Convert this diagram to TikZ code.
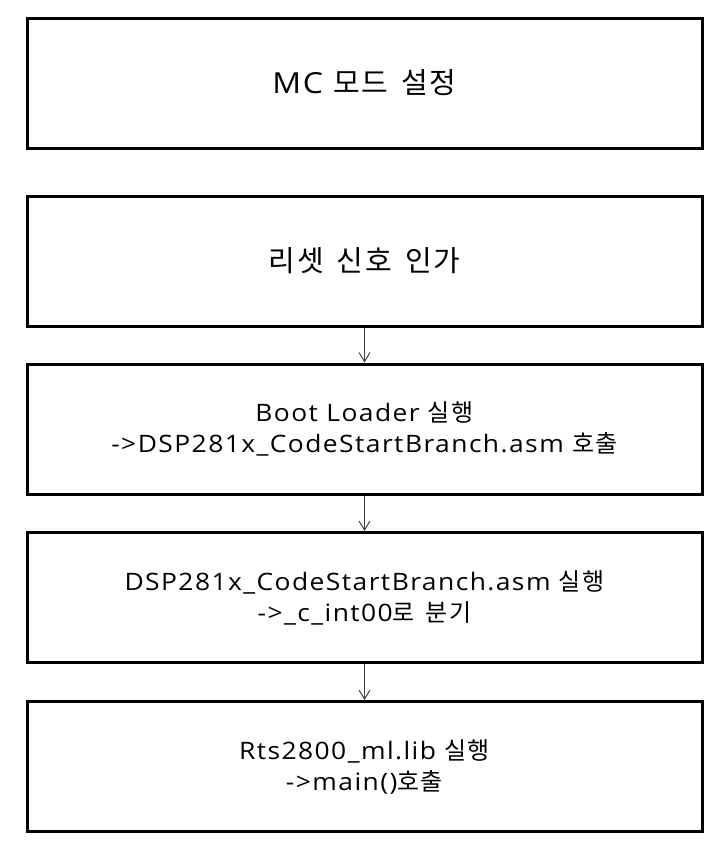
\documentclass[tikz,border=0pt]{standalone}
\usepackage{fontspec}
\setmainfont{Open Sans}[FakeStretch=1.1, LetterSpace=6]
\newfontfamily\krfont{Noto Sans CJK KR}[LetterSpace=6, WordSpace=1.6]
\newcommand{\ko}[1]{{\krfont #1}}
\usetikzlibrary{arrows.meta}
\tikzset{
  flowbox/.style={draw=black, line width=3pt, minimum width=675pt, minimum height=130pt, inner sep=0pt, align=center, font=\fontsize{24}{31}\selectfont},
  bigtext/.style={font=\fontsize{29}{34}\selectfont},
  flowarrow/.style={draw=black!75, line width=1pt, -{Straight Barb[length=9pt,width=11pt,line width=1pt]}}
}
\begin{document}
\begin{tikzpicture}[x=1pt,y=1pt]
\useasboundingbox[fill=white] (0,0) rectangle (720,-847);
\node[flowbox,bigtext] (b1) at (364.5,-83) {MC\ \ko{모드 설정}};
\node[flowbox,bigtext] (b2) at (364.5,-261) {\ko{리셋 신호 인가}};
\node[flowbox] (b3) at (364.5,-429) {Boot Loader \ko{실행}\\-{}>DSP281x\_CodeStartBranch.asm \ko{호출}};
\node[flowbox] (b4) at (364.5,-597.5) {DSP281x\_CodeStartBranch.asm \ko{실행}\\-{}>\_c\_int00\ko{로 분기}};
\node[flowbox] (b5) at (364.5,-766.5) {Rts2800\_ml.lib \ko{실행}\\-{}>main()\ko{호출}};
\draw[flowarrow] (b2.south) -- (b3.north);
\draw[flowarrow] (b3.south) -- (b4.north);
\draw[flowarrow] (b4.south) -- (b5.north);
\end{tikzpicture}
\end{document}
